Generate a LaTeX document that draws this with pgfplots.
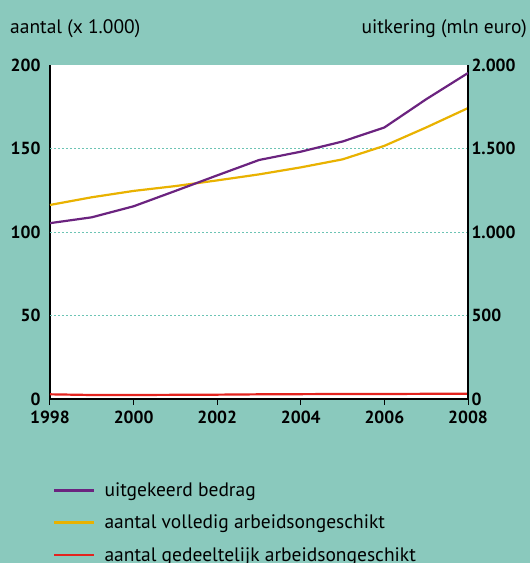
\documentclass[border=0pt]{standalone}
\usepackage{pgfplots}
\pgfplotsset{compat=1.18}
\usepackage{fontspec}
\setmainfont{PT Sans}
\definecolor{bgteal}{HTML}{8AC9BD}
\definecolor{gridteal}{HTML}{6CC4B4}
\definecolor{paars}{HTML}{6B237F}
\definecolor{geel}{HTML}{E9B200}
\definecolor{rood}{HTML}{E3231E}

\begin{document}
\begin{tikzpicture}[x=1pt,y=1pt]
\useasboundingbox (0,0) rectangle (530,563);
\fill[bgteal] (0,0) rectangle (530,563);
\node[anchor=base west, font=\fontsize{19.5}{22}\selectfont, inner sep=0] at (10,529) {aantal (x 1.000)};
\node[anchor=base east, font=\fontsize{19.5}{22}\selectfont, inner sep=0] at (527,529) {uitkering (mln euro)};

\begin{axis}[
  at={(50pt,164pt)}, anchor=south west,
  scale only axis, width=418pt, height=334pt,
  xmin=1998, xmax=2008, ymin=0, ymax=200,
  axis background/.style={fill=white},
  axis x line*=bottom, axis y line*=left,
  axis line style={black, line width=1.1pt},
  xtick={1998,2000,...,2008}, ytick={0,50,...,200},
  extra y ticks={50,100,150}, extra y tick labels={},
  extra y tick style={grid=major, tick style={draw=none}},
  xtick style={black, line width=1pt},
  ytick style={draw=none},
  major tick length=6pt,
  tick align=outside,
  x tick label style={/pgf/number format/1000 sep={}, yshift=-2pt},
  ticklabel style={font=\fontsize{17.5}{20}\selectfont\bfseries},
  /pgf/number format/assume math mode=true,
  grid style={gridteal, dash pattern=on 2pt off 2pt, line width=0.8pt},
  legend style={at={(0.007,-0.244)}, anchor=north west, draw=none, fill=none,
    font=\fontsize{19.5}{22}\selectfont, row sep=13pt, inner sep=0pt,
    /tikz/every even column/.append style={column sep=0pt}},
  legend cell align=left,
  legend image code/.code={\draw[#1, line width=2.4pt] (0pt,0pt) -- (40pt,0pt);},
]
\addlegendimage{paars}
\addlegendentry{\hspace{7pt}uitgekeerd bedrag}
\addplot[geel, line width=2.2pt] coordinates {
  (1998,116.2) (1999,120.8) (2000,124.6) (2001,127.5) (2002,130.9) (2003,134.5)
  (2004,138.7) (2005,143.5) (2006,151.6) (2007,162.6) (2008,174.2)};
\addlegendentry{\hspace{7pt}aantal volledig arbeidsongeschikt}
\addplot[rood, line width=2.2pt] coordinates {
  (1998,2.8) (1999,2.4) (2000,2.4) (2001,2.5) (2002,2.6) (2003,2.8)
  (2004,2.9) (2005,3.0) (2006,3.0) (2007,3.1) (2008,3.1)};
\addlegendentry{\hspace{7pt}aantal gedeeltelijk arbeidsongeschikt}
\end{axis}

\begin{axis}[
  at={(50pt,164pt)}, anchor=south west,
  scale only axis, width=418pt, height=334pt,
  xmin=1998, xmax=2008, ymin=0, ymax=2000,
  axis x line=none, axis y line*=right,
  axis line style={black, line width=1.1pt},
  ytick={0,500,...,2000},
  ytick style={draw=none},
  yticklabel style={/pgf/number format/1000 sep={.}},
  ticklabel style={font=\fontsize{17.5}{20}\selectfont\bfseries},
  /pgf/number format/assume math mode=true,
]
\addplot[paars, line width=2.2pt] coordinates {
  (1998,1053) (1999,1088) (2000,1154) (2001,1246) (2002,1339) (2003,1431)
  (2004,1481) (2005,1542) (2006,1626) (2007,1795) (2008,1952)};
\end{axis}
\end{tikzpicture}
\end{document}
